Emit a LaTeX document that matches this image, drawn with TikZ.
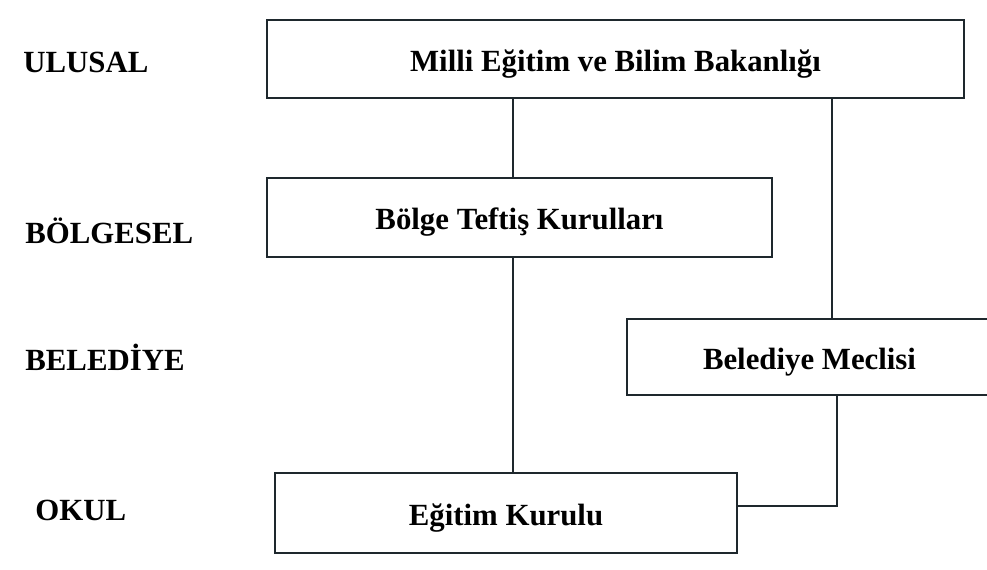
\documentclass[tikz,border=0pt]{standalone}
\usepackage{fontspec}
\setmainfont{Liberation Serif}
\usepackage{xcolor}
\definecolor{kutuline}{RGB}{30,40,45}
\usepackage{tikz}
\usetikzlibrary{positioning, calc}
\tikzset{
  kutu/.style={
    rectangle, draw=kutuline, line width=1pt, fill=white,
    inner sep=0pt, text height=13pt, text depth=1pt,
    text centered, font=\fontsize{15.4}{18}\selectfont\bfseries
  },
  seviye/.style={
    anchor=base west, inner sep=0pt,
    font=\fontsize{15.4}{18}\selectfont\bfseries
  },
  baglanti/.style={line width=1pt, color=kutuline},
}

\begin{document}
\begin{tikzpicture}[x=0.5pt, y=-0.5pt]
  \clip (0,0) rectangle (987,569);
  \fill[white] (0,0) rectangle (987,569);

  % duzey etiketleri
  \node (ulusal)   [seviye] at (23,72)  {ULUSAL};
  \node (bolgesel) [seviye] at (25,243) {BÖLGESEL};
  \node (belediye) [seviye] at (25,370) {BELEDİYE};
  \node (okul)     [seviye] at (35,520) {OKUL};

  % kutular
  \node (bakanlik) [kutu, minimum width=348.5pt, minimum height=39pt] at (615.5,59)  {Milli Eğitim ve Bilim Bakanlığı};
  \node (bolge)    [kutu, minimum width=252.5pt, minimum height=39.5pt] at (519.5,217.5) {Bölge Teftiş Kurulları};
  \node (meclis)   [kutu, minimum width=182.5pt, minimum height=38pt] at (809.5,357) {Belediye Meclisi};
  \node (kurul)    [kutu, minimum width=231pt, minimum height=40pt] at (506,513) {Eğitim Kurulu};

  \coordinate (sol)  at (513,0);
  \coordinate (sag)  at (832,0);
  \coordinate (sag2) at (837,0);

  \draw [baglanti] (bakanlik.south -| sol) -- (bolge.north -| sol);
  \draw [baglanti] (bakanlik.south -| sag) -- (meclis.north -| sag);
  \draw [baglanti] (bolge.south -| sol)    -- (kurul.north -| sol);
  \draw [baglanti] (meclis.south -| sag2)  |- ([yshift=3.5pt]kurul.east);
\end{tikzpicture}
\end{document}
